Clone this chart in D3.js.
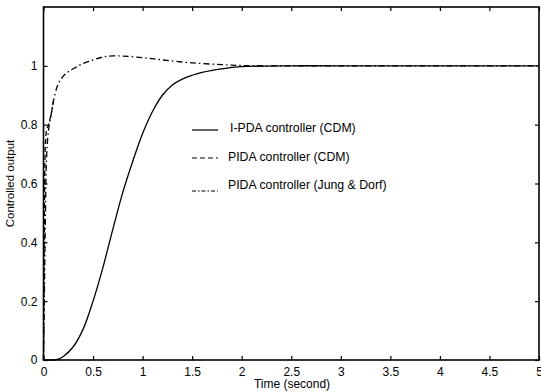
<!DOCTYPE html>
<html><head><meta charset="utf-8">
<script src="https://d3js.org/d3.v7.min.js"></script>
<style>body{margin:0;background:#fff;} svg{display:block;font-family:"Liberation Sans",Arial,sans-serif;}</style>
</head><body><svg id="c" width="541" height="392"></svg>
<script>
// ---- data ----
const tIPDA = [0,0.1,0.15,0.2,0.3,0.4,0.5,0.6,0.7,0.8,0.9,1.0,1.1,1.2,1.3,1.4,1.5,1.6,1.8,2.0,2.5,3,5];
const vIPDA = [0,0,0.003,0.012,0.045,0.105,0.2,0.315,0.445,0.57,0.675,0.77,0.845,0.9,0.935,0.955,0.968,0.978,0.99,0.997,1.0,1.0,1.0];
const tPIDA = [0,0.003,0.006,0.01,0.015,0.02,0.03,0.05,0.08,0.1,0.15,0.2,0.3,0.5,0.7,1.0,1.5,2,3,5];
const vPIDA = [0,0.15,0.35,0.55,0.68,0.74,0.78,0.8,0.84,0.88,0.94,0.965,0.99,1.02,1.034,1.028,1.01,1.001,1.0,1.0];
const tJD = [0,0.01,0.02,0.03,0.05,0.08,0.1,0.15,0.2,0.25,0.3,0.4,0.5,0.6,0.7,0.8,1.0,1.2,1.5,1.8,2.0,2.5,3,5];
const vJD = [0,0.25,0.5,0.68,0.78,0.84,0.88,0.94,0.965,0.98,0.99,1.008,1.02,1.03,1.034,1.033,1.028,1.02,1.01,1.004,1.001,1.0,1.0,1.0];
const xTicks = [0,0.5,1,1.5,2,2.5,3,3.5,4,4.5,5];
const xTickLabels = ["0","0.5","1","1.5","2","2.5","3","3.5","4","4.5","5"];
const yTicks = [0,0.2,0.4,0.6,0.8,1];
const yTickLabels = ["0","0.2","0.4","0.6","0.8","1"];
const legendLabels = ["I-PDA controller (CDM)","PIDA controller (CDM)","PIDA controller (Jung & Dorf)"];
const xLabel = "Time (second)", yLabel = "Controlled output";

const svg = d3.select("#c");
const L=43.5, R=539, T=7, B=360;
const x = d3.scaleLinear().domain([0,5]).range([L,R]);
const y = d3.scaleLinear().domain([0,1.2]).range([B,T]);

const fmt = (lab)=> (d,i)=>lab[i];
svg.append("g").attr("transform",`translate(0,${B})`)
  .call(d3.axisBottom(x).tickValues(xTicks).tickFormat(fmt(xTickLabels)).tickSizeInner(-4).tickSizeOuter(0).tickPadding(7))
  .call(g=>{g.select(".domain").remove();g.selectAll("text").attr("font-size",12).attr("fill","#000");});
svg.append("g").attr("transform",`translate(0,${T})`)
  .call(d3.axisTop(x).tickValues(xTicks).tickFormat("").tickSizeInner(-4).tickSizeOuter(0))
  .call(g=>g.select(".domain").remove());
svg.append("g").attr("transform",`translate(${L},0)`)
  .call(d3.axisLeft(y).tickValues(yTicks).tickFormat(fmt(yTickLabels)).tickSizeInner(-4).tickSizeOuter(0).tickPadding(6))
  .call(g=>{g.select(".domain").remove();g.selectAll("text").attr("font-size",12).attr("fill","#000");});
svg.append("g").attr("transform",`translate(${R},0)`)
  .call(d3.axisRight(y).tickValues(yTicks).tickFormat("").tickSizeInner(-4).tickSizeOuter(0))
  .call(g=>g.select(".domain").remove());
svg.selectAll(".tick line").attr("stroke","#000").attr("stroke-width",1.2);

const line = d3.line().x(d=>x(d[0])).y(d=>y(d[1])).curve(d3.curveCatmullRom);
const pts = (t,v)=>t.map((tt,i)=>[tt,v[i]]);
// dashed PIDA (CDM)
svg.append("path").datum(pts(tPIDA,vPIDA)).attr("d",line).attr("fill","none")
  .attr("stroke","#000").attr("stroke-width",1.3).attr("stroke-dasharray","5,3");
// Jung & Dorf: white underlay so the coincident part reads as dash-dot
svg.append("path").datum(pts(tJD,vJD).filter(d=>d[0]>=0.1)).attr("d",line).attr("fill","none")
  .attr("stroke","#fff").attr("stroke-width",3);
svg.append("path").datum(pts(tJD,vJD)).attr("d",line).attr("fill","none")
  .attr("stroke","#000").attr("stroke-width",1.3).attr("stroke-dasharray","6,3,1.5,3");
// solid I-PDA
svg.append("path").datum(pts(tIPDA,vIPDA)).attr("d",line).attr("fill","none")
  .attr("stroke","#000").attr("stroke-width",1.3);

svg.append("rect").attr("x",L).attr("y",T).attr("width",R-L).attr("height",B-T)
  .attr("fill","none").attr("stroke","#000").attr("stroke-width",1.6);

// legend
const dashes=[null,"5,3","4,2,1.5,2"];
const lineY=[130,158,191], textY=[132,161,189], textX=[230,228,228];
legendLabels.forEach((lab,i)=>{
  svg.append("line").attr("x1",192).attr("x2",218).attr("y1",lineY[i]).attr("y2",lineY[i])
    .attr("stroke","#000").attr("stroke-width",1.2).attr("stroke-dasharray",dashes[i]);
  svg.append("text").attr("x",textX[i]).attr("y",textY[i]).text(lab).attr("font-size",12.3);
});

svg.append("text").attr("x",292).attr("y",388).attr("text-anchor","middle").attr("font-size",12).text(xLabel);
svg.append("text").attr("transform",`translate(14,${(T+B)/2}) rotate(-90)`).attr("text-anchor","middle").attr("font-size",11.5).text(yLabel);
</script></body></html>
